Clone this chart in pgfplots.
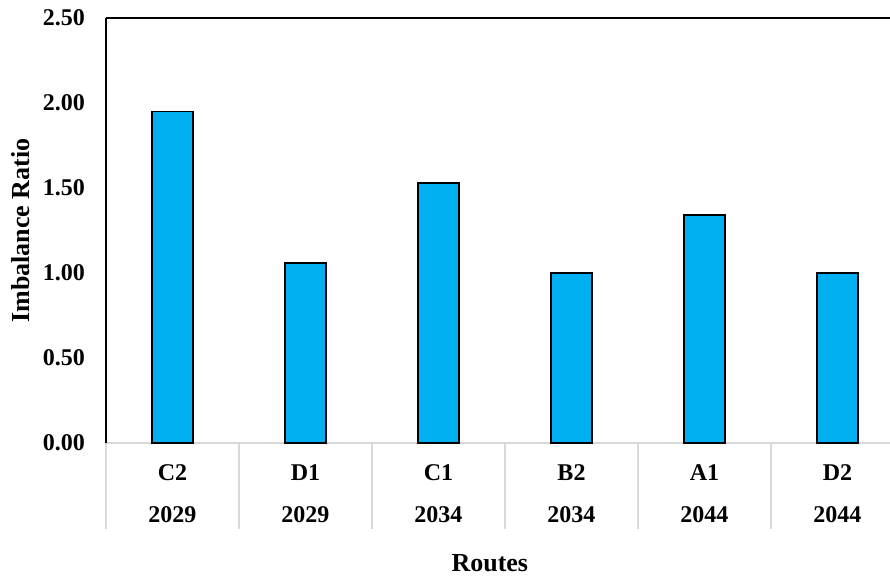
\documentclass[border=0pt]{standalone}
\usepackage{pgfplots}
\pgfplotsset{compat=1.18}
\usepackage{fontspec}
\setmainfont{Liberation Serif}
\definecolor{barblue}{HTML}{00B0F0}
\definecolor{sepgray}{HTML}{D9D9D9}
\begin{document}
\begin{tikzpicture}
\path[use as bounding box, clip] (0pt,0pt) rectangle (445pt,287.5pt);
\begin{axis}[
  at={(53pt,66pt)}, anchor=south west,
  scale only axis, width=399pt, height=212.5pt,
  xmin=0.5, xmax=6.5, ymin=0, ymax=2.5,
  enlargelimits=false,
  clip mode=individual,
  ybar, bar width=20.5pt,
  axis x line*=bottom, axis y line*=left,
  x axis line style={-, draw=sepgray, line width=1pt},
  y axis line style={-, draw=black, line width=0.8pt},
  xtick={1,2,3,4,5,6},
  xticklabels={{C2\\2029},{D1\\2029},{C1\\2034},{B2\\2034},{A1\\2044},{D2\\2044}},
  xtick style={draw=none},
  ytick={0,0.5,1,1.5,2,2.5},
  ytick style={draw=none},
  /pgf/number format/.cd, fixed, fixed zerofill, precision=2, assume math mode=true,
  /pgfplots/.cd,
  yticklabel style={font=\fontsize{12}{13}\selectfont\bfseries, xshift=-7pt},
  xticklabel style={font=\fontsize{12}{21}\selectfont\bfseries, align=center, anchor=north, yshift=-3pt},
  ylabel={Imbalance Ratio},
  xlabel={Routes},
  every axis y label/.style={at={(axis description cs:-0.1065,0.5)}, rotate=90, anchor=center, font=\fontsize{13}{15}\selectfont\bfseries},
  every axis x label/.style={at={(axis description cs:0.481,-0.282)}, anchor=center, font=\fontsize{13}{15}\selectfont\bfseries},
]
\addplot[ybar, fill=barblue, draw=black, line width=0.9pt] coordinates {(1,1.95) (2,1.06) (3,1.53) (4,1.00) (5,1.34) (6,1.00)};
\draw[black, line width=1pt] (rel axis cs:0,1) -- (rel axis cs:1,1);
\draw[sepgray, line width=1pt] (axis cs:0.5,0) -- ++(0pt,-43pt);
\draw[sepgray, line width=1pt] (axis cs:1.5,0) -- ++(0pt,-43pt);
\draw[sepgray, line width=1pt] (axis cs:2.5,0) -- ++(0pt,-43pt);
\draw[sepgray, line width=1pt] (axis cs:3.5,0) -- ++(0pt,-43pt);
\draw[sepgray, line width=1pt] (axis cs:4.5,0) -- ++(0pt,-43pt);
\draw[sepgray, line width=1pt] (axis cs:5.5,0) -- ++(0pt,-43pt);
\draw[sepgray, line width=1pt] (axis cs:6.5,0) -- ++(0pt,-43pt);
\end{axis}
\end{tikzpicture}
\end{document}
